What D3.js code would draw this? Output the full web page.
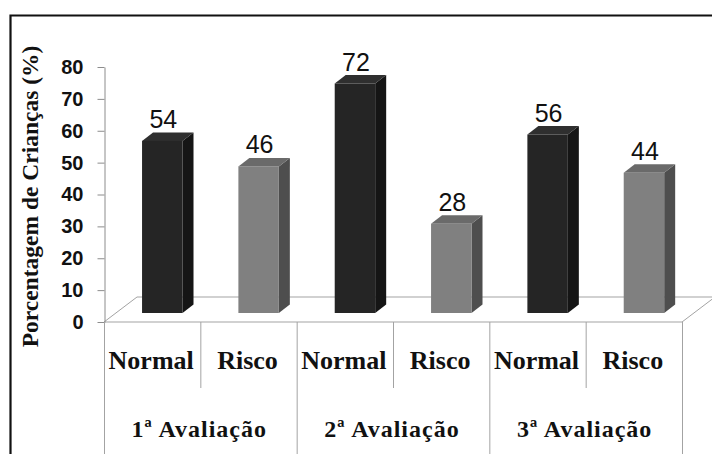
<!DOCTYPE html>
<html>
<head>
<meta charset="utf-8">
<script src="https://cdn.jsdelivr.net/npm/d3@7"></script>
<style>
  body { margin: 0; background: #fff; }
  svg { display: block; }
  .y-axis .domain, .y-axis line { stroke: #8c8c8c; }
  .y-axis text { font-family: 'Liberation Sans', Arial, sans-serif; font-weight: bold; font-size: 20px; fill: #111; }
</style>
</head>
<body>
<div id="chart"></div>
<script>
// chart values
const groups = ['1ª Avaliação', '2ª Avaliação', '3ª Avaliação'];
const categories = ['Normal', 'Risco'];
const values = [54, 46, 72, 28, 56, 44];
const yTicks = [0, 10, 20, 30, 40, 50, 60, 70, 80];

const W = 712, H = 454;
const floorDepth = {dx: 33, dy: -25};
const barDepth = {dx: 11, dy: -8.5};

const svg = d3.select('#chart').append('svg')
    .attr('width', W)
    .attr('height', H);

// frame (left + top edges)
svg.append('path')
    .attr('d', `M10.5,${H} V15.5 H${W}`)
    .attr('fill', 'none')
    .attr('stroke', '#111')
    .attr('stroke-width', 2.2);

const y = d3.scaleLinear().domain([0, 80]).range([322, 67]);

const cols = d3.range(values.length);
const x = d3.scaleBand().domain(cols).range([104, 682]).padding(0);
const xg = d3.scaleBand().domain(groups).range([104, 682]).padding(0);

const grid = '#a3a3a3';

// floor
const y0 = y(0);
svg.append('path')
    .attr('d', `M104,${y0} L${104 + floorDepth.dx},${y0 + floorDepth.dy} L${682 + floorDepth.dx},${y0 + floorDepth.dy} L682,${y0} Z`)
    .attr('fill', 'none')
    .attr('stroke', grid)
    .attr('stroke-width', 1);

// y axis
const yAxis = d3.axisLeft(y)
    .tickValues(yTicks)
    .tickSize(7)
    .tickSizeOuter(0)
    .tickPadding(14);

svg.append('g')
    .attr('class', 'y-axis')
    .attr('transform', 'translate(104.5,0)')
    .call(yAxis);

// bars
const colors = {
    Normal: {front: '#252525', top: '#2f2f2f', side: '#151515'},
    Risco: {front: '#808080', top: '#6a6a6a', side: '#4e4e4e'}
};
const lift = 9;
const bw = x.bandwidth() * 0.42;

const bars = svg.append('g');
cols.forEach(i => {
    const cat = categories[i % 2];
    const c = colors[cat];
    const x0 = x(i) + x.bandwidth() * 0.395;
    const x1 = x0 + bw;
    const yb = y(0) - lift;
    const yt = y(values[i]) - lift;
    const dx = barDepth.dx, dy = barDepth.dy;
    const g = bars.append('g');
    g.append('path')
        .attr('d', `M${x1},${yb} L${x1 + dx},${yb + dy} L${x1 + dx},${yt + dy} L${x1},${yt} Z`)
        .attr('fill', c.side);
    g.append('path')
        .attr('d', `M${x0},${yt} L${x0 + dx},${yt + dy} L${x1 + dx},${yt + dy} L${x1},${yt} Z`)
        .attr('fill', c.top);
    g.append('rect')
        .attr('x', x0).attr('y', yt)
        .attr('width', bw).attr('height', yb - yt)
        .attr('fill', c.front);
    g.append('text')
        .attr('x', (x0 + x1) / 2 + 1)
        .attr('y', yt - 13)
        .attr('text-anchor', 'middle')
        .style('font-family', "'Liberation Sans', Arial, sans-serif")
        .style('font-size', '25px')
        .style('fill', '#111')
        .text(values[i]);
});

// category table
const table = svg.append('g');
const edges = cols.map(i => x(i)).concat([682]);
edges.forEach((ex, k) => {
    table.append('line')
        .attr('x1', ex + 0.5).attr('x2', ex + 0.5)
        .attr('y1', y0).attr('y2', k % 2 === 0 ? H : 388)
        .attr('stroke', grid);
});

const serif = "'Liberation Serif', 'Times New Roman', serif";
cols.forEach(i => {
    table.append('text')
        .attr('x', x(i) + x.bandwidth() / 2 - 1)
        .attr('y', 369)
        .attr('text-anchor', 'middle')
        .style('font-family', serif)
        .style('font-weight', 'bold')
        .style('font-size', '26px')
        .style('fill', '#111')
        .text(categories[i % 2]);
});

groups.forEach(gname => {
    table.append('text')
        .attr('x', xg(gname) + xg.bandwidth() / 2 - 1)
        .attr('y', 437)
        .attr('text-anchor', 'middle')
        .style('font-family', serif)
        .style('font-weight', 'bold')
        .style('font-size', '24px')
        .style('letter-spacing', '1px')
        .style('fill', '#111')
        .text(gname);
});

// y title
svg.append('text')
    .attr('transform', `translate(38,${(y(0) + y(80)) / 2 + 2}) rotate(-90)`)
    .attr('text-anchor', 'middle')
    .style('font-family', serif)
    .style('font-weight', 'bold')
    .style('font-size', '23.5px')
    .style('fill', '#111')
    .text('Porcentagem de Crianças (%)');
</script>
</body>
</html>
